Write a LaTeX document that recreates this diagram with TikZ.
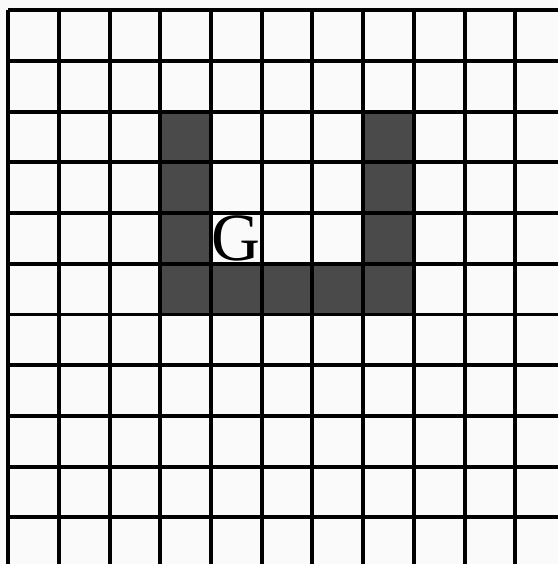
\documentclass[tikz,border=0pt]{standalone}
\usepackage{fontspec}
\setmainfont{Liberation Serif}
\usetikzlibrary{positioning}
\tikzset{>=latex}
\definecolor{cellgray}{rgb}{0.29, 0.29, 0.29}
\tikzset{cell/.style={fill=cellgray}}
\tikzset{gridline/.style={line width=2.2pt, black}}

\begin{document}
\begin{tikzpicture}
  \useasboundingbox[fill=black!2] (-0.16, 0.2) rectangle (10.84, -10.92);
  % shaded cells
  \fill[cell] (3, -2) rectangle (4, -6); %
  \fill[cell] (7, -2) rectangle (8, -6); %
  \fill[cell] (3, -5) rectangle (8, -6); %
  \node[font=\fontsize{38}{38}\selectfont, inner sep=0pt] (g) at (4.5, -4.5) {G};
  \draw[gridline] (0, 0) grid (10.84, -10.92);
\end{tikzpicture}
\end{document}
